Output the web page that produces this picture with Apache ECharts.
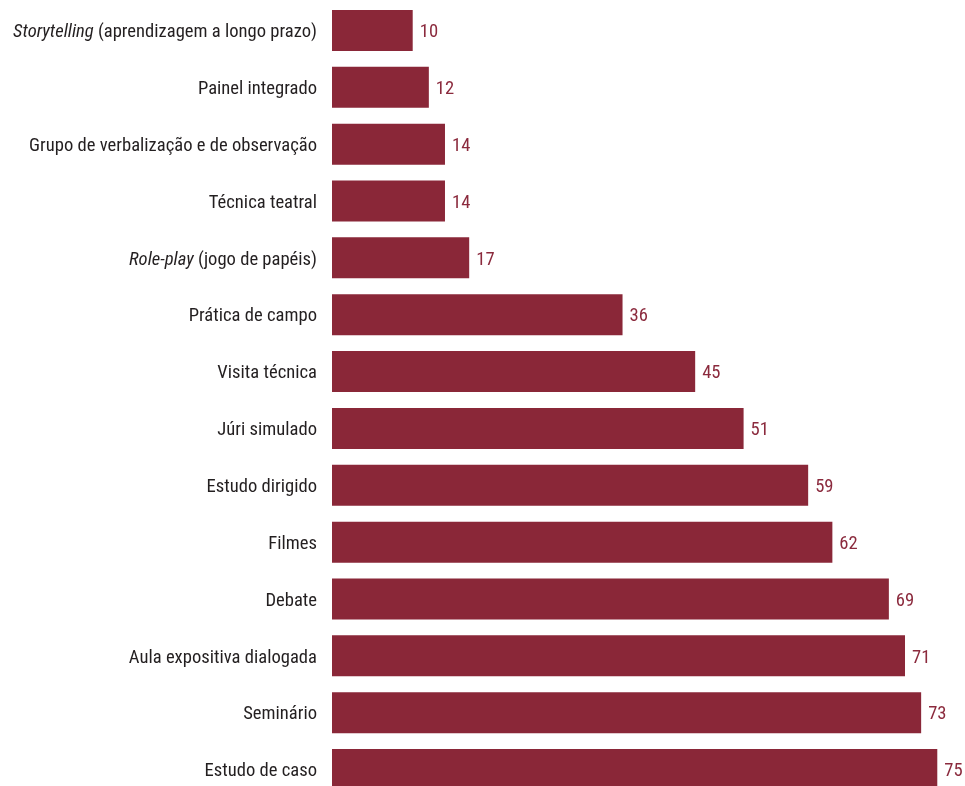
<!DOCTYPE html>
<html>
<head>
<meta charset="utf-8">
<script src="https://cdn.jsdelivr.net/npm/echarts@6/dist/echarts.min.js"></script>
<style>
  html, body { margin: 0; padding: 0; background: #fff; }
  #chart { width: 965px; height: 786px; }
</style>
</head>
<body>
<div id="chart"></div>
<script>
// categories top to bottom (italic part marked separately)
const categories = [
  "Storytelling (aprendizagem a longo prazo)",
  "Painel integrado",
  "Grupo de verbalização e de observação",
  "Técnica teatral",
  "Role-play (jogo de papéis)",
  "Prática de campo",
  "Visita técnica",
  "Júri simulado",
  "Estudo dirigido",
  "Filmes",
  "Debate",
  "Aula expositiva dialogada",
  "Seminário",
  "Estudo de caso"
]
const values = [10, 12, 14, 14, 17, 36, 45, 51, 59, 62, 69, 71, 73, 75]
const italicWords = ["Storytelling", "Role-play"]

const font = "'Roboto Condensed', 'DejaVu Sans Condensed', sans-serif"
const barColor = "#8a2738"
const fs = 18.6

const chart = echarts.init(document.getElementById("chart"))

chart.setOption({
  animation: false,
  grid: { left: 332, top: 2, width: 629.5, height: 796, containLabel: false, outerBoundsMode: "none" },
  xAxis: {
    type: "value",
    min: 0,
    max: 78,
    show: false
  },
  yAxis: {
    type: "category",
    inverse: true,
    data: categories,
    axisLine: { show: false },
    axisTick: { show: false },
    axisLabel: {
      margin: 15,
      fontFamily: font,
      fontSize: fs,
      color: "#231f20",
      formatter: (v) => {
        const w = italicWords.find(x => v.startsWith(x))
        if (w) return "{i|" + w + "}{n|" + v.slice(w.length) + "}"
        return "{n|" + v + "}"
      },
      rich: {
        i: { fontFamily: font, fontSize: fs, fontStyle: "italic", color: "#231f20", padding: [4, 0, 0, 0] },
        n: { fontFamily: font, fontSize: fs, color: "#231f20", padding: [4, 0, 0, 0] }
      }
    }
  },
  series: [{
    type: "bar",
    data: values,
    barWidth: 41,
    itemStyle: { color: barColor },
    label: {
      show: true,
      position: "right",
      distance: 7,
      offset: [0, 2],
      fontFamily: font,
      fontSize: fs,
      color: "#8b2a3d"
    }
  }]
})
</script>
</body>
</html>
